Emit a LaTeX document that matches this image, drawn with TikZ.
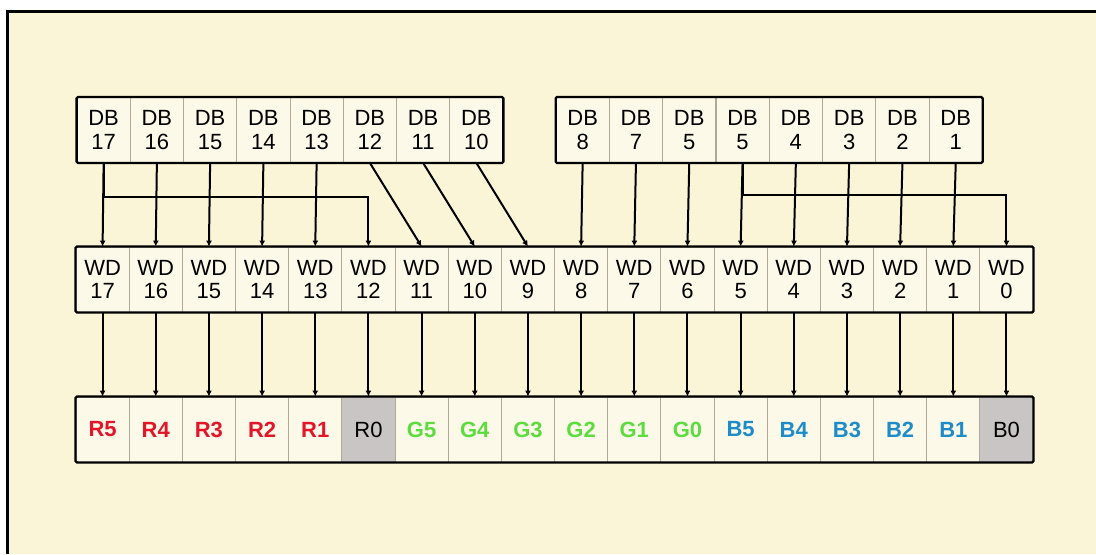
\documentclass[tikz,border=0pt]{standalone}
\usepackage{fontspec}
\setmainfont{Liberation Sans}
\usetikzlibrary{arrows.meta}
\definecolor{bg}{RGB}{250,245,214}
\definecolor{cellbg}{RGB}{252,249,232}
\definecolor{graycell}{RGB}{200,197,196}
\definecolor{divider}{RGB}{175,170,150}
\definecolor{rred}{RGB}{226,22,42}
\definecolor{ggreen}{RGB}{92,220,62}
\definecolor{bblue}{RGB}{30,140,200}
\tikzset{
  cell/.style={draw=divider, line width=0.6pt, fill=cellbg, minimum width=39.9pt,
    minimum height=48.75pt, inner sep=0pt, align=center,
    font=\fontsize{16.5}{17.5}\selectfont},
  rc/.style={text=rred, font=\fontsize{16.5}{17.5}\selectfont\bfseries},
  gc/.style={text=ggreen, font=\fontsize{16.5}{17.5}\selectfont\bfseries},
  bc/.style={text=bblue, font=\fontsize{16.5}{17.5}\selectfont\bfseries},
  kc/.style={text=black, fill=graycell},
  outer/.style={draw=black, line width=1.7pt, rounded corners=1pt},
  arr/.style={draw=black, line width=1.5pt, -{Latex[length=4.5pt,width=4.5pt]}},
}
\begin{document}
\begin{tikzpicture}[x=0.75pt,y=-0.75pt]
\useasboundingbox (0,0) rectangle (1096,554);
\fill[white] (0,0) rectangle (1096,554);
\fill[bg] (7.5,11) rectangle (1096,554);
\draw[line width=2.25pt] (7.5,554) -- (7.5,11) -- (1096,11);

% top-left DB block
\foreach \i in {0,...,7}{
  \pgfmathtruncatemacro\n{17-\i}
  \node[cell] (dl\i) at ({77+53.25*(\i+0.5)},130) {DB\\\n};
}
\draw[outer] (dl0.north west) rectangle (dl7.south east);

% top-right DB block
\foreach \t [count=\i from 0] in {8,7,5,5,4,3,2,1}{
  \node[cell] (dr\i) at ({556+53.3*(\i+0.5)},130) {DB\\\t};
}
\draw[outer] (dr0.north west) rectangle (dr7.south east);

% WD row
\foreach \i in {0,...,17}{
  \pgfmathtruncatemacro\n{17-\i}
  \node[cell] (w\i) at ({76+53.17*(\i+0.5)},279.5) {WD\\\n};
}
\draw[outer] (w0.north west) rectangle (w17.south east);

% bottom RGB row
\foreach \t [count=\i from 0] in {R5,R4,R3,R2,R1}
  \node[cell,rc] (b\i) at ({76+53.17*(\i+0.5)},429.5) {\t};
\node[cell,kc] (b5) at ({76+53.17*5.5},429.5) {R0};
\foreach \t [count=\i from 6] in {G5,G4,G3,G2,G1,G0}
  \node[cell,gc] (b\i) at ({76+53.17*(\i+0.5)},429.5) {\t};
\foreach \t [count=\i from 12] in {B5,B4,B3,B2,B1}
  \node[cell,bc] (b\i) at ({76+53.17*(\i+0.5)},429.5) {\t};
\node[cell,kc] (b17) at ({76+53.17*17.5},429.5) {B0};
\draw[outer] (b0.north west) rectangle (b17.south east);

% DB -> WD connections (left block)
\foreach \i in {0,...,4}
  \draw[arr] (dl\i.south) -- (w\i.north);
\draw[arr] (dl0.south) -- ++(0,34) -| (w5.north);
\draw[arr] (dl5.south) -- (w6.north);
\draw[arr] (dl6.south) -- (w7.north);
\draw[arr] (dl7.south) -- (w8.north);

% DB -> WD connections (right block)
\foreach \i in {0,...,7}{
  \pgfmathtruncatemacro\j{9+\i}
  \draw[arr] (dr\i.south) -- (w\j.north);
}
\draw[arr] (dr3.south) -- ++(0,32) -| (w17.north);

% WD -> RGB
\foreach \i in {0,...,17}
  \draw[arr] (w\i.south) -- (b\i.north);
\end{tikzpicture}
\end{document}
